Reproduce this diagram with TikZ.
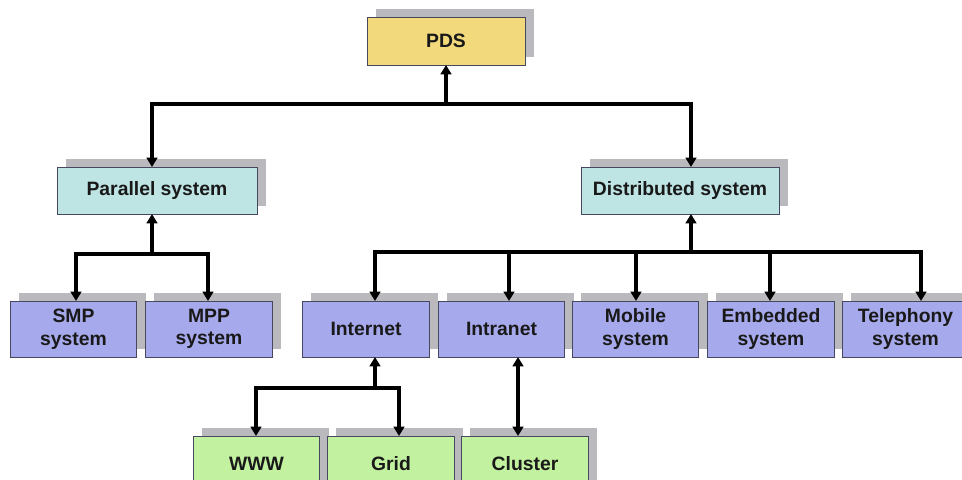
\documentclass[tikz,border=0pt]{standalone}
\usepackage{fontspec}
\setmainfont{Liberation Sans}
\usetikzlibrary{arrows.meta,calc,shadows}

\definecolor{pdsyellow}{RGB}{242,218,124}
\definecolor{systeal}{RGB}{190,228,228}
\definecolor{leafblue}{RGB}{166,170,236}
\definecolor{netgreen}{RGB}{194,242,160}
\definecolor{shadowgray}{RGB}{186,186,190}
\definecolor{edgeline}{RGB}{70,72,96}

\tikzset{
	box/.style={draw=edgeline, line width=0.6pt, inner sep=0pt, outer sep=0pt, align=center,
		text=black!90, font=\bfseries\fontsize{14.5}{17}\selectfont,
		general shadow={draw=none, fill=shadowgray, shadow xshift=6.5pt, shadow yshift=6pt}},
	pdsbox/.style={box, fill=pdsyellow, minimum width=118.5pt, minimum height=36pt},
	sysbox/.style={box, fill=systeal, minimum width=149pt, minimum height=35.25pt},
	leafbox/.style={box, fill=leafblue, minimum width=95pt, minimum height=42pt},
	netbox/.style={box, fill=netgreen, minimum width=95pt, minimum height=42pt},
	link/.style={line width=2.3pt, -{Triangle[length=7pt,width=8pt]}},
	dlink/.style={line width=2.3pt, {Triangle[length=7pt,width=8pt]}-{Triangle[length=7pt,width=8pt]}}
}

\begin{document}
\begin{tikzpicture}[x=0.75pt, y=-0.75pt]
			\useasboundingbox (0,0) rectangle (962,479);
			\node[pdsbox] (pds) at (446,41) {PDS};
			\node[sysbox, minimum width=150pt] (par) at (157,190.5) {Parallel system};
			\node[sysbox, minimum width=148.5pt] (dist) at (680,190.5) {Distributed system};
			\node[leafbox] (smp) at (73.5,329) {SMP\\system};
			\node[leafbox] (mpp) at (209,329) {MPP\\system};
			\node[leafbox] (inet) at (366,329) {Internet};
			\node[leafbox] (intra) at (501.5,329) {Intranet};
			\node[leafbox] (mob) at (635.5,329) {Mobile\\system};
			\node[leafbox] (emb) at (771,329) {Embedded\\system};
			\node[leafbox] (tel) at (905.5,329) {Telephony\\system};
			\node[netbox] (www) at (256.5,464) {WWW};
			\node[netbox] (grid) at (391,464) {Grid};
			\node[netbox] (clus) at (525,464) {Cluster};
			\coordinate (jroot) at (446,104);
			\coordinate (jpar) at (152,254);
			\coordinate (jdist) at (691,252);
			\coordinate (jinet) at (375,388);
			\draw[link] (jroot) -- (jroot |- pds.south);
			\draw[link] (jroot) -| ($(par.north)+(-5,0)$);
			\draw[link] (jroot) -| ($(dist.north)+(11,0)$);
			\draw[link] (jpar) -- (jpar |- par.south);
			\draw[link] (jpar) -| ($(smp.north)+(2.5,0)$);
			\draw[link] (jpar) -| ($(mpp.north)+(-1,0)$);
			\draw[link] (jdist) -- (jdist |- dist.south);
			\draw[link] (jdist) -| ($(inet.north)+(9,0)$);
			\draw[link] (jdist) -| ($(intra.north)+(7.5,0)$);
			\draw[link] (jdist) -| ($(mob.north)+(0.5,0)$);
			\draw[link] (jdist) -| ($(emb.north)+(-1,0)$);
			\draw[link] (jdist) -| ($(tel.north)+(15.5,0)$);
			\draw[link] (jinet) -- (jinet |- inet.south);
			\draw[link] (jinet) -| ($(www.north)+(-0.5,0)$);
			\draw[link] (jinet) -| ($(grid.north)+(8,0)$);
			\draw[dlink] ($(intra.south)+(16.5,0)$) -- ($(clus.north)+(-7,0)$);
\end{tikzpicture}
\end{document}
